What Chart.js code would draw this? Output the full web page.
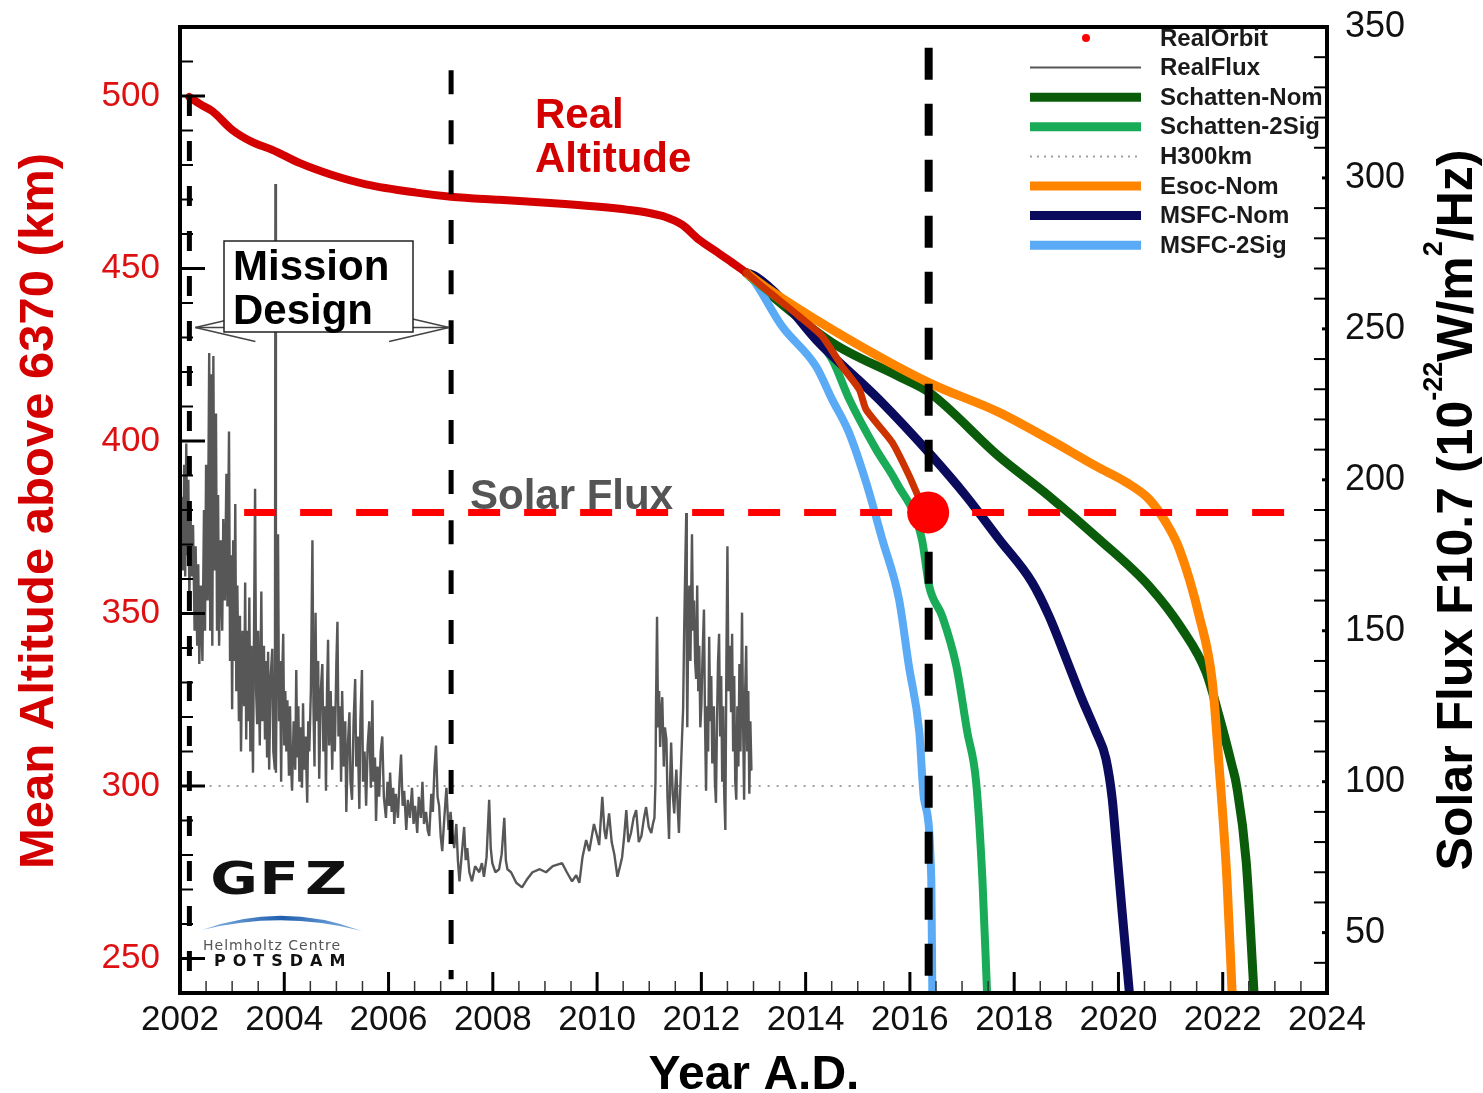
<!DOCTYPE html>
<html>
<head>
<meta charset="utf-8">
<title>Altitude decay and solar flux</title>
<script src="https://cdn.jsdelivr.net/npm/chart.js@4.4.1/dist/chart.umd.min.js"></script>
<style>
  html, body { margin: 0; padding: 0; background: #fff; }
  #wrap { width: 1483px; height: 1093px; }
</style>
</head>
<body>
<div id="wrap"><canvas id="chart" width="1483" height="1093"></canvas></div>
<script>
// tick labels
const yearTicks = [2002, 2004, 2006, 2008, 2010, 2012, 2014, 2016, 2018, 2020, 2022, 2024];
const altTicks = [250, 300, 350, 400, 450, 500];
const fluxTicks = [50, 100, 150, 200, 250, 300, 350];

// [year, km]
const realAltitude = [[2002.18,499.7],[2002.40,497.5],[2002.62,495.6],[2003.00,490.2],[2003.38,486.7],[2003.77,484.4],
  [2004.29,480.6],[2004.92,477.1],[2005.57,474.4],[2006.53,472.0],[2007.20,470.8],[2008.12,469.9],[2009.10,469.0],
  [2010.04,467.9],[2010.60,467.0],[2011.00,466.1],[2011.30,465.0],[2011.63,462.7],[2011.96,458.3],[2012.30,454.8],
  [2012.59,451.7],[2012.86,448.8]];
const realOrbit = [[2012.86,448.8],[2013.24,443.9],[2013.88,436.1],[2014.32,430.3],[2014.70,421.6],[2015.03,414.9],
  [2015.16,409.1],[2015.66,399.6],[2015.99,389.8],[2016.27,380.2],[2016.35,379.3]];
const orbitNow = [[2016.35,379.3]];
const schattenNom = [[2012.86,448.8],[2013.24,443.5],[2014.51,428.5],[2015.79,418.7],[2016.37,414.1],[2017.71,395.5],
  [2018.67,384.0],[2019.63,371.5],[2020.59,357.9],[2021.22,345.5],[2021.68,333.0],[2021.93,320.3],[2022.18,305.8],
  [2022.26,300.6],[2022.45,278.1],[2022.60,240]];
const schatten2Sig = [[2012.86,448.8],[2013.10,445.5],[2013.88,436.1],[2014.51,423.6],[2014.84,412.0],[2015.35,397.6],
  [2015.74,388.0],[2016.23,371.5],[2016.37,357.9],[2016.62,349.2],[2016.89,334.8],[2017.10,315.7],[2017.27,301.2],
  [2017.39,273.1],[2017.48,240]];
const esocNom = [[2012.86,448.8],[2013.24,444.5],[2014.51,432.3],[2016.35,417.0],[2017.71,408.3],[2018.67,400.5],
  [2019.57,392.7],[2020.15,388.0],[2020.59,383.1],[2020.91,376.4],[2021.17,368.6],[2021.55,349.2],[2021.80,330.2],
  [2021.93,305.9],[2022.08,273.1],[2022.18,240]];
const msfcNom = [[2012.86,448.8],[2013.05,447.6],[2013.55,441.0],[2014.20,429.4],[2015.41,412.0],[2016.43,395.5],
  [2017.08,384.0],[2017.71,371.5],[2018.34,359.1],[2018.67,349.2],[2019.00,336.8],[2019.30,325.2],[2019.57,315.7],
  [2019.76,307.9],[2019.88,296.3],[2019.96,282.7],[2020.07,263.6],[2020.21,240]];
const msfc2Sig = [[2012.86,448.8],[2012.97,447.2],[2013.55,433.2],[2014.20,421.6],[2014.51,412.0],[2014.83,402.5],
  [2015.16,388.0],[2015.47,371.5],[2015.79,354.2],[2015.98,334.8],[2016.18,315.7],[2016.27,296.3],[2016.41,273.1],
  [2016.43,240]];

// [year, F10.7]
const solarFlux = [[2002.04,194],[2002.06,170],[2002.08,205],[2002.10,168],[2002.12,212],[2002.14,175],[2002.16,200],
  [2002.18,160],[2002.20,190],[2002.23,168],[2002.25,185],[2002.28,150],[2002.30,178],[2002.33,145],[2002.35,172],
  [2002.37,139],[2002.40,165],[2002.43,140],[2002.46,190],[2002.48,150],[2002.50,205],[2002.53,160],[2002.56,242],
  [2002.58,150],[2002.60,235],[2002.62,145],[2002.64,241],[2002.66,170],[2002.69,222],[2002.71,150],[2002.73,195],
  [2002.75,145],[2002.78,180],[2002.81,150],[2002.83,187],[2002.86,160],[2002.89,202],[2002.91,158],[2002.94,216],
  [2002.96,140],[2002.98,175],[2003.00,124],[2003.02,180],[2003.04,140],[2003.06,192],[2003.08,130],[2003.10,165],
  [2003.13,120],[2003.15,155],[2003.17,110],[2003.20,150],[2003.23,125],[2003.25,166],[2003.27,114],[2003.29,150],
  [2003.31,120],[2003.33,161],[2003.35,110],[2003.37,145],[2003.40,103],[2003.42,150],[2003.44,197],[2003.46,130],
  [2003.48,119],[2003.50,150],[2003.53,112],[2003.56,163],[2003.58,120],[2003.61,145],[2003.63,114],[2003.65,140],
  [2003.67,108],[2003.69,143],[2003.71,104],[2003.74,135],[2003.77,144],[2003.79,110],[2003.82,104],[2003.83,298],
  [2003.84,103],[2003.86,150],[2003.88,182],[2003.90,120],[2003.92,140],[2003.94,100],[2003.96,135],[2003.98,149],
  [2004.00,112],[2004.02,130],[2004.04,110],[2004.06,127],[2004.09,102],[2004.11,125],[2004.13,105],[2004.15,97],
  [2004.18,120],[2004.21,104],[2004.23,137],[2004.25,108],[2004.27,125],[2004.29,100],[2004.31,118],[2004.34,98],
  [2004.36,126],[2004.38,104],[2004.41,115],[2004.44,93],[2004.46,120],[2004.48,110],[2004.51,130],[2004.54,180],
  [2004.56,125],[2004.58,105],[2004.60,156],[2004.62,120],[2004.65,140],[2004.67,101],[2004.70,130],[2004.73,139],
  [2004.75,110],[2004.78,125],[2004.80,97],[2004.82,130],[2004.84,147],[2004.86,112],[2004.89,130],[2004.92,104],
  [2004.94,125],[2004.97,110],[2005.00,140],[2005.02,153],[2005.04,115],[2005.07,125],[2005.09,100],[2005.11,130],
  [2005.14,105],[2005.17,120],[2005.19,90],[2005.22,112],[2005.25,123],[2005.27,100],[2005.30,94],[2005.33,120],
  [2005.36,134],[2005.38,105],[2005.41,115],[2005.44,91],[2005.46,120],[2005.49,137],[2005.51,100],[2005.54,110],
  [2005.57,92],[2005.60,112],[2005.63,120],[2005.66,98],[2005.69,127],[2005.71,100],[2005.74,108],[2005.76,87],
  [2005.79,105],[2005.82,95],[2005.85,110],[2005.88,115],[2005.91,95],[2005.95,88],[2005.98,100],[2006.01,92],
  [2006.03,103],[2006.06,90],[2006.09,98],[2006.11,86],[2006.14,96],[2006.18,88],[2006.21,100],[2006.24,109],
  [2006.27,92],[2006.30,97],[2006.34,84],[2006.37,94],[2006.41,88],[2006.45,98],[2006.48,86],[2006.51,92],
  [2006.55,83],[2006.58,95],[2006.62,88],[2006.65,100],[2006.68,86],[2006.72,90],[2006.75,84],[2006.78,82],
  [2006.82,96],[2006.85,90],[2006.88,104],[2006.91,112],[2006.94,95],[2006.97,92],[2007.00,82],[2007.03,77],
  [2007.07,88],[2007.11,98],[2007.15,84],[2007.19,90],[2007.22,83],[2007.26,78],[2007.30,86],[2007.33,74],
  [2007.36,67],[2007.40,75],[2007.45,85],[2007.48,74],[2007.51,78],[2007.55,70],[2007.60,67],[2007.66,72],
  [2007.74,70],[2007.79,73],[2007.83,68.5],[2007.88,75],[2007.93,94],[2007.96,78],[2007.99,73],[2008.05,70],
  [2008.12,71],[2008.17,76],[2008.22,88],[2008.25,74],[2008.28,71],[2008.35,70],[2008.45,66.5],[2008.56,65],
  [2008.65,67.5],[2008.76,70],[2008.90,71],[2009.02,70],[2009.15,72],[2009.33,73],[2009.42,70],[2009.52,67],
  [2009.60,69],[2009.66,66.5],[2009.72,75],[2009.79,80.7],[2009.85,77],[2009.94,86],[2010.00,82],[2010.04,79],
  [2010.10,95],[2010.14,84],[2010.17,81],[2010.23,89.5],[2010.28,80],[2010.33,76],[2010.39,68.5],[2010.44,72],
  [2010.48,75],[2010.52,82],[2010.56,90.6],[2010.60,80],[2010.65,83],[2010.70,88],[2010.75,90.6],[2010.80,80],
  [2010.85,82],[2010.90,88],[2010.94,91.6],[2010.99,85],[2011.04,83],[2011.07,86],[2011.10,88],[2011.12,100],
  [2011.13,125],[2011.15,154.6],[2011.17,118],[2011.19,130],[2011.21,111.5],[2011.23,122],[2011.25,128],[2011.28,105],
  [2011.30,118],[2011.33,114],[2011.35,95],[2011.38,81],[2011.40,100],[2011.42,113],[2011.45,96],[2011.48,89.5],
  [2011.50,98],[2011.52,104],[2011.55,90],[2011.57,83],[2011.60,100],[2011.63,115],[2011.65,124],[2011.67,150],
  [2011.69,170],[2011.71,189],[2011.72,140],[2011.73,118],[2011.75,155],[2011.77,165],[2011.79,140],[2011.82,182],
  [2011.84,150],[2011.86,160],[2011.88,140],[2011.90,134],[2011.92,165],[2011.94,130],[2011.96,145],[2011.98,118],
  [2012.00,125],[2012.02,140],[2012.05,157],[2012.07,120],[2012.09,97],[2012.11,125],[2012.13,110],[2012.15,148],
  [2012.17,120],[2012.19,135],[2012.21,106],[2012.24,125],[2012.26,100],[2012.28,93],[2012.30,120],[2012.32,140],
  [2012.34,149],[2012.36,115],[2012.38,135],[2012.40,100],[2012.42,125],[2012.44,95],[2012.46,84],[2012.48,140],
  [2012.50,178],[2012.52,130],[2012.55,145],[2012.57,123],[2012.59,149],[2012.61,110],[2012.63,135],[2012.65,100],
  [2012.67,94],[2012.69,125],[2012.71,105],[2012.73,139],[2012.75,110],[2012.78,156],[2012.80,120],[2012.82,94],
  [2012.84,130],[2012.86,145],[2012.88,110],[2012.90,130],[2012.92,96],[2012.94,120],[2012.96,104]];

// reference lines [year, km]
const fluxLevel = [[2003.23,379.3],[2023.18,379.3]];
const h300 = [[2002.05,300],[2024,300]];
const missionStart = [[2002.18,500],[2002.18,241]];
const missionEnd = [[2007.20,507.5],[2007.20,244]];
const todayLine = [[2016.36,514],[2016.36,240]];

const FONT = '"Liberation Sans", Arial, Helvetica, sans-serif';
Chart.defaults.font.family = FONT;

const pts = arr => arr.map(([x, y]) => ({ x, y }));

function lineSet(label, data, color, width, extra) {
  return Object.assign({
    label, data: pts(data), borderColor: color, backgroundColor: color,
    borderWidth: width, pointRadius: 0, fill: false, yAxisID: 'y',
    cubicInterpolationMode: 'monotone', borderCapStyle: 'round', borderJoinStyle: 'round'
  }, extra || {});
}
const straight = { cubicInterpolationMode: 'default', tension: 0, borderCapStyle: 'butt' };

const colors = {
  RealOrbit: '#ff0000', RealFlux: '#575757', 'Schatten-Nom': '#0a5c0a', 'Schatten-2Sig': '#1aab58',
  H300km: '#a0a0a0', 'Esoc-Nom': '#ff8400', 'MSFC-Nom': '#0b0b5e', 'MSFC-2Sig': '#5aaaf5'
};
const legendNames = ['RealOrbit', 'RealFlux', 'Schatten-Nom', 'Schatten-2Sig', 'H300km', 'Esoc-Nom', 'MSFC-Nom', 'MSFC-2Sig'];

function seg(ctx, x1, y1, x2, y2) { ctx.beginPath(); ctx.moveTo(x1, y1); ctx.lineTo(x2, y2); ctx.stroke(); }

const decor = {
  id: 'decor',
  beforeDatasetsDraw(chart) {
    const ctx = chart.ctx;
    ctx.save();
    ctx.font = 'bold 42px ' + FONT;
    ctx.textBaseline = 'alphabetic';
    ctx.textAlign = 'left';
    ctx.fillStyle = '#555';
    ctx.fillText('Solar Flux', 470, 509);
    ctx.fillStyle = '#d40000';
    ctx.fillText('Real', 535, 128);
    ctx.fillText('Altitude', 535, 172);
    ctx.restore();
  },
  afterDatasetsDraw(chart) {
    const ctx = chart.ctx, xs = chart.scales.x, ys = chart.scales.y;
    ctx.save();
    // mission design arrow
    const ay = ys.getPixelForValue(432.9);
    const ax1 = xs.getPixelForValue(2002.18) + 6, ax2 = xs.getPixelForValue(2007.2) - 2;
    ctx.strokeStyle = '#444'; ctx.lineWidth = 1.5;
    seg(ctx, ax1, ay, ax2, ay);
    seg(ctx, ax1, ay, ax1 + 60, ay - 14); seg(ctx, ax1, ay, ax1 + 60, ay + 14);
    seg(ctx, ax2, ay, ax2 - 60, ay - 14); seg(ctx, ax2, ay, ax2 - 60, ay + 14);
    // box
    ctx.fillStyle = '#fff'; ctx.strokeStyle = '#222'; ctx.lineWidth = 1.5;
    ctx.fillRect(224, 241, 189, 91); ctx.strokeRect(224, 241, 189, 91);
    ctx.fillStyle = '#000'; ctx.font = 'bold 42px ' + FONT; ctx.textAlign = 'left'; ctx.textBaseline = 'alphabetic';
    ctx.fillText('Mission', 233, 280);
    ctx.fillText('Design', 233, 324);

    // GFZ logo
    ctx.fillStyle = '#111';
    ctx.font = 'bold 44px "DejaVu Sans", sans-serif';
    ctx.textAlign = 'center';
    [['G', 234], ['F', 279], ['Z', 326]].forEach(([ch, cx]) => {
      ctx.save(); ctx.translate(cx, 894); ctx.scale(1.32, 1); ctx.fillText(ch, 0, 0); ctx.restore();
    });
    const grad = ctx.createLinearGradient(202, 0, 362, 0);
    grad.addColorStop(0, '#8ab8e6'); grad.addColorStop(0.5, '#1f5fae'); grad.addColorStop(1, '#8ab8e6');
    ctx.fillStyle = grad;
    ctx.beginPath(); ctx.moveTo(202, 930); ctx.quadraticCurveTo(282, 901, 362, 931);
    ctx.quadraticCurveTo(282, 910, 202, 930); ctx.fill();
    ctx.textAlign = 'left';
    ctx.fillStyle = '#555'; ctx.font = '14px "DejaVu Sans", sans-serif'; ctx.letterSpacing = '1px';
    ctx.fillText('Helmholtz Centre', 203, 950);
    ctx.fillStyle = '#111'; ctx.font = 'bold 16px "DejaVu Sans", sans-serif'; ctx.letterSpacing = '7px';
    ctx.fillText('POTSDAM', 214, 966);
    ctx.letterSpacing = '0px';

    // legend
    ctx.font = 'bold 24px ' + FONT; ctx.textBaseline = 'middle';
    legendNames.forEach((name, i) => {
      const y = 38 + i * 29.6;
      const c = colors[name];
      ctx.setLineDash([]);
      if (name === 'RealOrbit') {
        ctx.fillStyle = c; ctx.beginPath(); ctx.arc(1086, y, 4, 0, Math.PI * 2); ctx.fill();
      } else {
        ctx.strokeStyle = c; ctx.lineCap = 'butt';
        if (name === 'RealFlux') ctx.lineWidth = 2;
        else if (name === 'H300km') { ctx.lineWidth = 2; ctx.setLineDash([2, 5]); }
        else ctx.lineWidth = 9;
        seg(ctx, 1030, y, 1141, y);
      }
      ctx.setLineDash([]);
      ctx.fillStyle = '#1a1a1a';
      ctx.fillText(name, 1160, y + 1);
    });
    ctx.restore();
  },
  afterDraw(chart) {
    const ctx = chart.ctx, a = chart.chartArea;
    const xs = chart.scales.x, ys = chart.scales.y, y1 = chart.scales.y1;
    ctx.save();
    ctx.strokeStyle = '#000'; ctx.lineCap = 'butt';
    // left ticks every 10 km
    for (let v = 250; v <= 510; v += 10) {
      const p = ys.getPixelForValue(v), major = v % 50 === 0;
      ctx.lineWidth = major ? 3 : 2;
      seg(ctx, a.left, p, a.left + (major ? 25 : 13), p);
    }
    // right ticks every 10 units
    for (let v = 40; v <= 340; v += 10) {
      const p = y1.getPixelForValue(v), major = v % 50 === 0;
      ctx.lineWidth = major ? 3 : 2;
      seg(ctx, a.right - (major ? 5 : 13), p, a.right, p);
    }
    // bottom ticks every half year
    for (let t = 2002.5; t < 2024; t += 0.5) {
      const p = xs.getPixelForValue(t), major = t % 2 === 0;
      ctx.lineWidth = major ? 3 : 1.5;
      ctx.strokeStyle = major ? '#000' : '#333';
      seg(ctx, p, a.bottom, p, a.bottom - (major ? 21 : 12));
    }
    // frame
    ctx.strokeStyle = '#000'; ctx.lineWidth = 4;
    ctx.strokeRect(a.left, a.top, a.right - a.left, a.bottom - a.top);

    // axis titles
    ctx.fillStyle = '#000'; ctx.font = 'bold 48px ' + FONT; ctx.textAlign = 'center'; ctx.textBaseline = 'alphabetic';
    ctx.fillText('Year A.D.', 754, 1089);

    ctx.save();
    ctx.translate(53, 511); ctx.rotate(-Math.PI / 2);
    ctx.fillStyle = '#d40000'; ctx.font = 'bold 49px ' + FONT;
    ctx.fillText('Mean Altitude above 6370 (km)', 0, 0);
    ctx.restore();

    ctx.save();
    ctx.translate(1472, 510); ctx.rotate(-Math.PI / 2);
    ctx.fillStyle = '#000'; ctx.textAlign = 'left';
    const main = 'bold 50px ' + FONT, sup = 'bold 27px ' + FONT;
    const parts = [['Solar Flux F10.7 (10', main, 0], ['-22', sup, -30], ['W/m', main, 0], ['2', sup, -30], ['/Hz)', main, 0]];
    let total = 0;
    parts.forEach(p => { ctx.font = p[1]; total += ctx.measureText(p[0]).width; });
    let x = -total / 2;
    parts.forEach(p => { ctx.font = p[1]; ctx.fillText(p[0], x, p[2]); x += ctx.measureText(p[0]).width; });
    ctx.restore();
    ctx.restore();
  }
};

const noPad = s => { s.paddingTop = 0; s.paddingBottom = 0; s.paddingLeft = 0; s.paddingRight = 0; };

new Chart(document.getElementById('chart'), {
  type: 'line',
  data: {
    datasets: [
      lineSet('RealOrbit', orbitNow, colors.RealOrbit, 0, { showLine: false, pointRadius: 21, pointBackgroundColor: '#ff0000', pointBorderWidth: 0 }),
      lineSet('RealOrbitTrack', realOrbit, '#cc3300', 7, { cubicInterpolationMode: 'default', tension: 0.2 }),
      lineSet('today', todayLine, '#000', 8, Object.assign({ borderDash: [32, 24] }, straight)),
      lineSet('fluxLevel', fluxLevel, '#ff0000', 7, Object.assign({ borderDash: [32, 24] }, straight)),
      lineSet('missionEnd', missionEnd, '#000', 5, Object.assign({ borderDash: [24, 26] }, straight)),
      lineSet('missionStart', missionStart, '#000', 5, Object.assign({ borderDash: [20, 25] }, straight)),
      lineSet('RealFlux', solarFlux, colors.RealFlux, 2.4, { yAxisID: 'y1', cubicInterpolationMode: 'default', tension: 0, borderJoinStyle: 'bevel' }),
      lineSet('RealAltitude', realAltitude, '#d40000', 8),
      lineSet('Esoc-Nom', esocNom, colors['Esoc-Nom'], 9),
      lineSet('MSFC-Nom', msfcNom, colors['MSFC-Nom'], 9),
      lineSet('Schatten-2Sig', schatten2Sig, colors['Schatten-2Sig'], 8),
      lineSet('MSFC-2Sig', msfc2Sig, colors['MSFC-2Sig'], 8),
      lineSet('Schatten-Nom', schattenNom, colors['Schatten-Nom'], 9),
      lineSet('H300km', h300, colors.H300km, 2, Object.assign({ borderDash: [2, 7] }, straight))
    ]
  },
  options: {
    responsive: false,
    animation: false,
    events: [],
    layout: { padding: { top: 27, left: 0, right: 0, bottom: 0 } },
    plugins: { legend: { display: false }, tooltip: { enabled: false } },
    scales: {
      x: {
        type: 'linear', min: 2002, max: 2024,
        grid: { display: false, drawTicks: false }, border: { display: false },
        afterFit: s => { s.height = 100; noPad(s); },
        afterBuildTicks: s => { s.ticks = yearTicks.map(v => ({ value: v })); },
        ticks: { autoSkip: false, maxRotation: 0, padding: 6, color: '#111', font: { size: 35 }, callback: v => String(v) }
      },
      y: {
        position: 'left', min: 240, max: 520,
        grid: { display: false, drawTicks: false }, border: { display: false },
        afterFit: s => { s.width = 180; noPad(s); },
        afterBuildTicks: s => { s.ticks = altTicks.map(v => ({ value: v })); },
        ticks: { padding: 20, color: '#dd1111', font: { size: 35 }, callback: v => String(v) }
      },
      y1: {
        position: 'right', min: 30, max: 350,
        grid: { display: false, drawTicks: false }, border: { display: false },
        afterFit: s => { s.width = 156; noPad(s); },
        afterBuildTicks: s => { s.ticks = fluxTicks.map(v => ({ value: v })); },
        ticks: { padding: 18, color: '#111', font: { size: 36 }, callback: v => String(v) }
      }
    }
  },
  plugins: [decor]
});
</script>
</body>
</html>
